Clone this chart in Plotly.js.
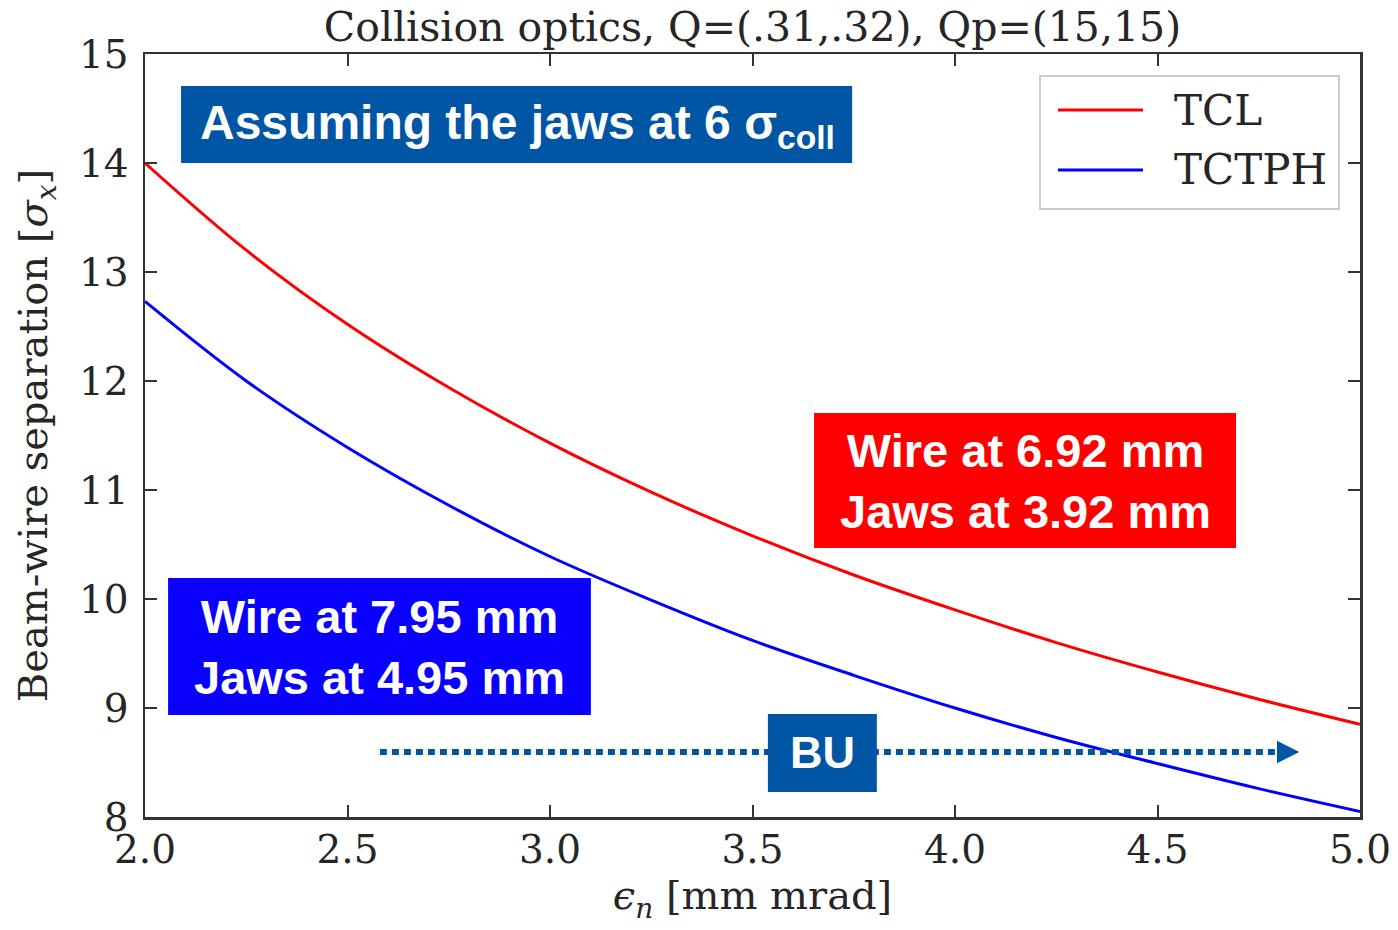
<!DOCTYPE html>
<html>
<head>
<meta charset="utf-8">
<script src="https://cdn.plot.ly/plotly-3.0.1.min.js"></script>
<style>html,body{margin:0;padding:0;background:#fff;}#chart{width:1398px;height:930px;}</style>
</head>
<body>
<div id="chart"></div>
<script>
// Normalized emittance values [mm mrad]
var emittance = [2.0, 2.25, 2.5, 2.75, 3.0, 3.25, 3.5, 3.75, 4.0, 4.25, 4.5, 4.75, 5.0];
// Beam-wire separation [sigma_x]
var tclSep   = [14.0, 13.2, 12.52, 11.94, 11.43, 10.98, 10.58, 10.22, 9.9, 9.6, 9.33, 9.08, 8.85];
var tctphSep = [12.73, 12.0, 11.39, 10.86, 10.39, 9.99, 9.62, 9.3, 9.0, 8.73, 8.49, 8.26, 8.05];
var seriesNames = ['TCL', 'TCTPH'];
var seriesColors = ['#ff0000', '#0000ff'];
var xTicks = [2.0, 2.5, 3.0, 3.5, 4.0, 4.5, 5.0];
var yTicks = [8, 9, 10, 11, 12, 13, 14, 15];

var serif = 'DejaVu Serif, serif';
var sans = 'Liberation Sans, Arial, sans-serif';

var traces = [
  {x: emittance, y: tclSep, name: seriesNames[0], mode: 'lines',
   line: {color: seriesColors[0], width: 3, shape: 'spline', smoothing: 1}},
  {x: emittance, y: tctphSep, name: seriesNames[1], mode: 'lines',
   line: {color: seriesColors[1], width: 3, shape: 'spline', smoothing: 1}}
];

var axisCommon = {
  showgrid: false, zeroline: false, showline: true, linecolor: '#333333', linewidth: 2.5,
  ticks: 'inside', ticklen: 12, tickwidth: 2, tickcolor: '#333333', mirror: 'ticks',
  tickfont: {family: serif, size: 39, color: '#262626'}
};

var shapes = [
  // header box
  {type: 'rect', xref: 'x', yref: 'y', x0: 2.089, x1: 3.746, y0: 14.0, y1: 14.706, fillcolor: '#0055a4', line: {width: 0}},
  // red box
  {type: 'rect', xref: 'x', yref: 'y', x0: 3.652, x1: 4.694, y0: 10.468, y1: 11.706, fillcolor: '#ff0000', line: {width: 0}},
  // blue box
  {type: 'rect', xref: 'x', yref: 'y', x0: 2.057, x1: 3.101, y0: 8.936, y1: 10.193, fillcolor: '#0a00ff', line: {width: 0}},
  // dotted arrow
  {type: 'line', xref: 'x', yref: 'y', x0: 2.580, x1: 4.80, y0: 8.596, y1: 8.596, line: {color: '#0055a4', width: 6, dash: '7px,5px'}},
  {type: 'path', xref: 'x', yref: 'y', path: 'M 4.795 8.70 L 4.850 8.596 L 4.795 8.492 Z', fillcolor: '#0055a4', line: {width: 0}},
  // BU box
  {type: 'rect', xref: 'x', yref: 'y', x0: 3.538, x1: 3.807, y0: 8.229, y1: 8.945, fillcolor: '#0055a4', line: {width: 0}},
  // legend frame
  {type: 'rect', xref: 'paper', yref: 'paper', x0: 0.7366, x1: 0.9827, y0: 0.7969, y1: 0.9712, fillcolor: '#ffffff', line: {color: '#cccccc', width: 2}},
  {type: 'line', xref: 'paper', yref: 'paper', x0: 0.7514, x1: 0.8214, y0: 0.9266, y1: 0.9266, line: {color: seriesColors[0], width: 3}},
  {type: 'line', xref: 'paper', yref: 'paper', x0: 0.7514, x1: 0.8214, y0: 0.8480, y1: 0.8480, line: {color: seriesColors[1], width: 3}}
];

var annotations = [
  {xref: 'x', yref: 'y', x: 2.919, y: 14.34, text: 'Assuming the jaws at 6 σ<sub>coll</sub>', showarrow: false,
   font: {family: sans, size: 48, color: '#ffffff', weight: 'bold'}},
  {xref: 'x', yref: 'y', x: 4.173, y: 11.08, text: 'Wire at 6.92 mm<br>Jaws at 3.92 mm', showarrow: false,
   font: {family: sans, size: 47, color: '#ffffff', weight: 'bold'}},
  {xref: 'x', yref: 'y', x: 2.580, y: 9.56, text: 'Wire at 7.95 mm<br>Jaws at 4.95 mm', showarrow: false,
   font: {family: sans, size: 47, color: '#ffffff', weight: 'bold'}},
  {xref: 'x', yref: 'y', x: 3.672, y: 8.596, text: 'BU', showarrow: false,
   font: {family: sans, size: 45, color: '#ffffff', weight: 'bold'}},
  {xref: 'paper', yref: 'paper', x: 0.8453, y: 0.9266, xanchor: 'left', yanchor: 'middle', text: seriesNames[0], showarrow: false,
   font: {family: serif, size: 42, color: '#262626'}},
  {xref: 'paper', yref: 'paper', x: 0.8453, y: 0.8480, xanchor: 'left', yanchor: 'middle', text: seriesNames[1], showarrow: false,
   font: {family: serif, size: 42, color: '#262626'}}
];

var layout = {
  width: 1398, height: 930,
  margin: {l: 145, r: 38, t: 54, b: 113},
  paper_bgcolor: '#ffffff', plot_bgcolor: '#ffffff',
  showlegend: false,
  title: {text: 'Collision optics, Q=(.31,.32), Qp=(15,15)', x: 0.5, xref: 'paper', y: 0.971, yanchor: 'middle',
          font: {family: serif, size: 41, color: '#262626'}},
  xaxis: Object.assign({}, axisCommon, {
    range: [2.0, 5.0], tickvals: xTicks, tickformat: '.1f', ticklabelstandoff: -3,
    title: {text: '<i>ϵ</i><sub><i>n</i></sub> [mm mrad]', font: {family: serif, size: 40, color: '#262626'}, standoff: 0}
  }),
  yaxis: Object.assign({}, axisCommon, {
    range: [8, 15], tickvals: yTicks, ticklabelstandoff: 6,
    title: {text: 'Beam-wire separation [<i>σ</i><sub><i>x</i></sub>]', font: {family: serif, size: 40, color: '#262626'}, standoff: 19}
  }),
  shapes: shapes,
  annotations: annotations
};

Plotly.newPlot('chart', traces, layout, {displayModeBar: false, staticPlot: true});
</script>
</body>
</html>
